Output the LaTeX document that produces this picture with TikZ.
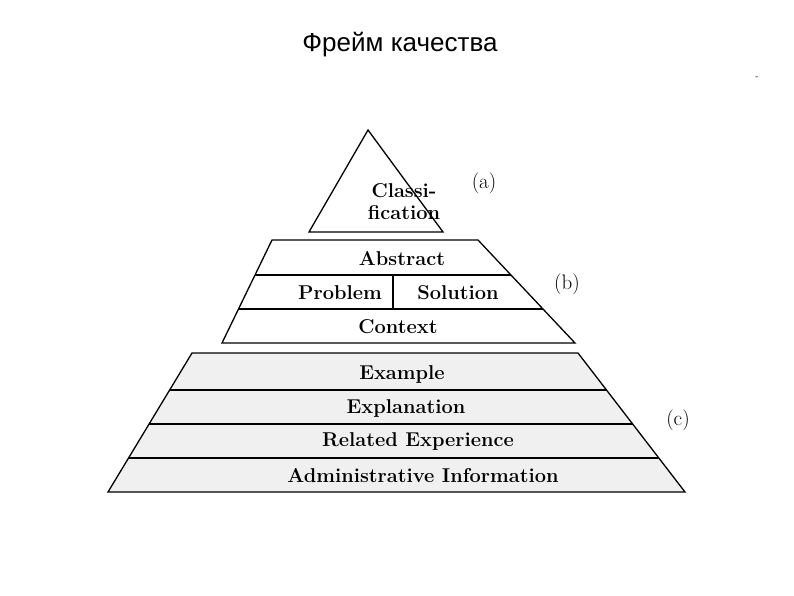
\documentclass[tikz,border=0pt]{standalone}
\usepackage{fontspec}
\newfontfamily\titlefont{Liberation Sans}
\begin{document}
\begin{tikzpicture}[x=1pt,y=-1pt,
  tier/.style={draw,line width=1.3pt,line join=miter},
  sep/.style={line width=1.1pt},
  lbl/.style={font=\fontsize{20}{22}\selectfont\bfseries,inner sep=0pt},
  tag/.style={font=\fontsize{21}{23}\selectfont,inner sep=0pt}]
\useasboundingbox (0,0) rectangle (794,595);
\node[font=\titlefont\fontsize{26}{30}\selectfont] (title) at (400,45) {Фрейм качества};
\node[inner sep=0pt] (dash) at (757,78) {-};
% top triangle
\draw[tier] (368,130) -- (443,232) -- (309,232) -- cycle;
\node[lbl,align=center] (cls) at (404,202) {Classi-\\fication};
\node[tag] (a) at (484,183) {(a)};
% middle
\draw[tier] (272,240) -- (478,240) -- (575,343) -- (222,343) -- cycle;
\draw[sep] (255,275) -- (511,275);
\draw[sep] (238.5,309) -- (543,309);
\draw[sep] (393,275) -- (393,309);
\node[lbl] (abs) at (402,259) {Abstract};
\node[lbl] (prob) at (340,293) {Problem};
\node[lbl] (sol) at (458,293) {Solution};
\node[lbl] (ctx) at (398,327) {Context};
\node[tag] (b) at (567,284) {(b)};
% bottom
\draw[tier,fill=black!6] (192,353) -- (578,353) -- (685,492) -- (108,492) -- cycle;
\draw[sep] (169.6,390) -- (606.5,390);
\draw[sep] (149,424) -- (632.7,424);
\draw[sep] (128.5,458) -- (658.9,458);
\node[lbl] (ex) at (402,374) {Example};
\node[lbl] (expl) at (406,408) {Explanation};
\node[lbl] (rel) at (418,441) {Related Experience};
\node[lbl] (adm) at (423,476) {Administrative Information};
\node[tag] (c) at (678,420) {(c)};
\end{tikzpicture}
\end{document}
